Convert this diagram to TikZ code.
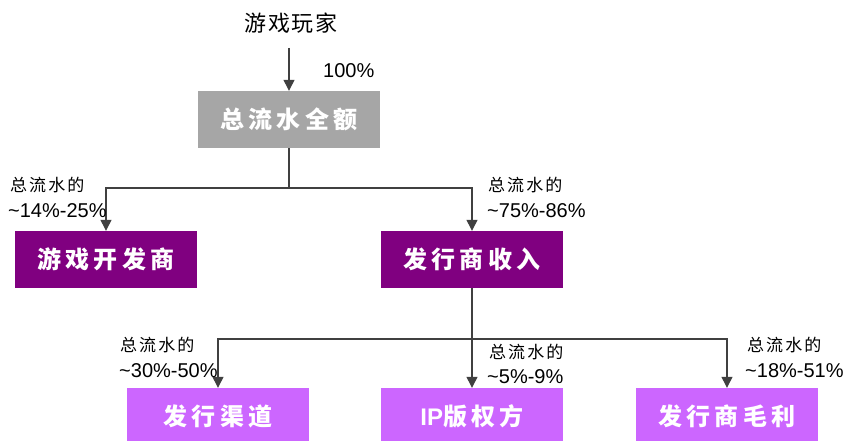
\documentclass[tikz,border=0pt]{standalone}
\usepackage{fontspec}
\setmainfont{Liberation Sans}
\newfontfamily\cjk{Noto Sans CJK SC}
\newfontfamily\cjkbox{Noto Sans CJK SC}[LetterSpace=18]
\newfontfamily\cjklab{Noto Sans CJK SC}[LetterSpace=12]
\newfontfamily\cjktitle{Noto Sans CJK SC}[LetterSpace=8]
\usetikzlibrary{arrows.meta}
\definecolor{grayfill}{HTML}{A6A6A6}
\definecolor{darkpurple}{HTML}{800080}
\definecolor{lightpurple}{HTML}{CC66FF}
\definecolor{linecol}{HTML}{404040}
\tikzset{
  box/.style={minimum width=182pt, minimum height=57pt, inner sep=0pt, text=white,
    font=\cjkbox\bfseries\fontsize{24}{28}\selectfont},
  graybox/.style={box, fill=grayfill},
  devbox/.style={box, fill=darkpurple},
  subbox/.style={box, fill=lightpurple},
  conn/.style={draw=linecol, line width=1.3pt},
  arr/.style={conn, -{Triangle[width=11pt,length=11pt]}},
  cnlabel/.style={anchor=west, inner sep=0pt, font=\cjklab\fontsize{17}{20}\selectfont},
  numlabel/.style={anchor=west, inner sep=0pt, font=\fontsize{20}{24}\selectfont},
}
\begin{document}
\begin{tikzpicture}[x=1pt,y=-1pt]
\useasboundingbox (0,0) rectangle (847,441);
\begin{scope}
\clip (0,0) rectangle (847,441);
% title
\node[inner sep=0pt, font=\cjktitle\fontsize{22}{26}\selectfont] (player) at (291,23) {游戏玩家};
\node[numlabel] (pct100) at (323,71) {100\%};
% boxes
\node[graybox] (total) at (289,119.5) {总流水全额};
\node[devbox] (dev) at (106,259.5) {游戏开发商};
\node[devbox] (pub) at (472,259.5) {发行商收入};
\node[subbox] (chan) at (218,416.5) {发行渠道};
\node[subbox] (ip) at (472,416.5) {{\rmfamily IP}版权方};
\node[subbox] (gross) at (727,416.5) {发行商毛利};
% connectors
\coordinate (top) at (289,48);
\draw[arr] (top) -- (total.north);
\coordinate (j1) at (289,188);
\draw[conn] (total.south) -- (j1);
\draw[arr] (j1) -| (dev.north);
\draw[arr] (j1) -| (pub.north);
\coordinate (j2) at (472,339);
\draw[conn] (pub.south) -- (j2);
\draw[arr] (j2) -| (chan.north);
\draw[arr] (j2) -- (ip.north);
\draw[arr] (j2) -| (gross.north);
\end{scope}
% labels
\node[cnlabel] (l1a) at (10,185) {总流水的};
\node[numlabel] (l1b) at (8,211) {\textasciitilde14\%-25\%};
\node[cnlabel] (l2a) at (488,185) {总流水的};
\node[numlabel] (l2b) at (487,211) {\textasciitilde75\%-86\%};
\node[cnlabel] (l3a) at (120,345) {总流水的};
\node[numlabel] (l3b) at (119,371) {\textasciitilde30\%-50\%};
\node[cnlabel] (l4a) at (489,352) {总流水的};
\node[numlabel] (l4b) at (487,377) {\textasciitilde5\%-9\%};
\node[cnlabel] (l5a) at (747,345) {总流水的};
\node[numlabel] (l5b) at (745,371) {\textasciitilde18\%-51\%};
\end{tikzpicture}
\end{document}
